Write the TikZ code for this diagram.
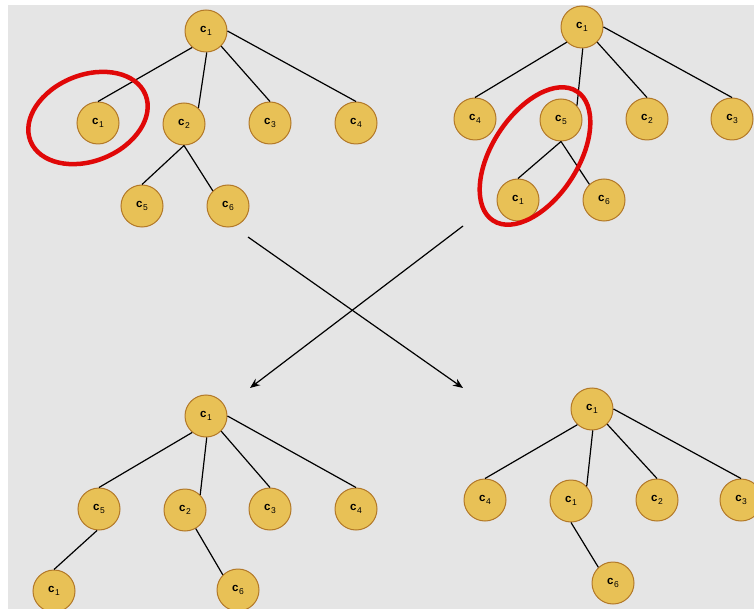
\documentclass[tikz,border=0pt]{standalone}
\usepackage{fontspec}
\setsansfont{Liberation Sans}
\usetikzlibrary{arrows.meta,positioning}
\definecolor{nodefill}{RGB}{232,193,86}
\definecolor{nodeline}{RGB}{178,120,40}
\definecolor{bggray}{RGB}{229,229,229}
\definecolor{ringred}{RGB}{224,8,8}
\newcommand{\lbl}[1]{\textbf{c}\kern0.4pt\raisebox{-0.5ex}{\fontsize{8.5}{9}\selectfont #1}}

\begin{document}
\begin{tikzpicture}[x=1pt,y=-1pt,-,auto]
\tikzstyle{vertex}=[circle,draw=nodeline,fill=nodefill,line width=1pt,minimum size=42pt,inner sep=0pt,font=\sffamily\fontsize{11.5}{13}\selectfont]
\tikzstyle{every edge}=[draw,black,line width=1.2pt]
\tikzstyle{ring}=[draw=ringred,line width=4.5pt]
\useasboundingbox (0,0) rectangle (754,609);
\fill[white] (0,0) rectangle (754,609);
\fill[bggray] (8,5) rectangle (754,609);
% top left
\node [vertex] (0) at(206,31) {\lbl{1}};
\node [vertex] (1) at(98,123) {\lbl{1}};
\node [vertex] (2) at(184,124) {\lbl{2}};
\node [vertex] (3) at(270,123) {\lbl{3}};
\node [vertex] (4) at(356,123) {\lbl{4}};
\node [vertex] (5) at(142,206) {\lbl{5}};
\node [vertex] (6) at(228,206) {\lbl{6}};
% top right
\node [vertex] (7) at(582,27) {\lbl{1}};
\node [vertex] (8) at(475,119) {\lbl{4}};
\node [vertex] (9) at(561,120) {\lbl{5}};
\node [vertex] (10) at(647,119) {\lbl{2}};
\node [vertex] (11) at(732,119) {\lbl{3}};
\node [vertex] (12) at(518,200) {\lbl{1}};
\node [vertex] (13) at(604,200) {\lbl{6}};
% bottom left
\node [vertex] (14) at(206,416) {\lbl{1}};
\node [vertex] (15) at(99,509) {\lbl{5}};
\node [vertex] (16) at(185,510) {\lbl{2}};
\node [vertex] (17) at(270,509) {\lbl{3}};
\node [vertex] (18) at(356,509) {\lbl{4}};
\node [vertex] (19) at(54,591) {\lbl{1}};
\node [vertex] (20) at(238,590) {\lbl{6}};
% bottom right
\node [vertex] (21) at(592,409) {\lbl{1}};
\node [vertex] (22) at(485,500) {\lbl{4}};
\node [vertex] (23) at(571,501) {\lbl{1}};
\node [vertex] (24) at(657,500) {\lbl{2}};
\node [vertex] (25) at(741,500) {\lbl{3}};
\node [vertex] (26) at(613,583) {\lbl{6}};
\path (0.230) edge (1.north);
\path (0.272) edge (2.48);
\path (0.315) edge (3.north);
\path (0.east) edge (4.north);
\path (2.south) edge (5.north);
\path (2.south) edge (6.135);
\path (7.225) edge (8.north);
\path (7.272) edge (9.42);
\path (7.315) edge (10.north);
\path (7.east) edge (11.north);
\path (9.south) edge (12.north);
\path (9.south) edge (13.133);
\path (14.230) edge (15.north);
\path (14.272) edge (16.45);
\path (14.315) edge (17.north);
\path (14.east) edge (18.north);
\path (15.265) edge (19.north);
\path (16.300) edge (20.135);
\path (21.227) edge (22.north);
\path (21.272) edge (23.43);
\path (21.315) edge (24.north);
\path (21.east) edge (25.north);
\path (23.south) edge (26.133);
% swap arrows
\coordinate (a1) at (248,237);
\coordinate (a2) at (463,388);
\coordinate (b1) at (463,226);
\coordinate (b2) at (250,388);
\draw[line width=1.2pt,-{Stealth[length=10pt,width=8pt]}] (a1) -- (a2);
\draw[line width=1.2pt,-{Stealth[length=10pt,width=8pt]}] (b1) -- (b2);
% marked subtrees
\draw[ring,shift={(88,118)},rotate=22] (0,0) ellipse (62pt and 43pt);
\draw[ring,shift={(535,156)},rotate=57] (0,0) ellipse (77pt and 43pt);
\end{tikzpicture}
\end{document}
